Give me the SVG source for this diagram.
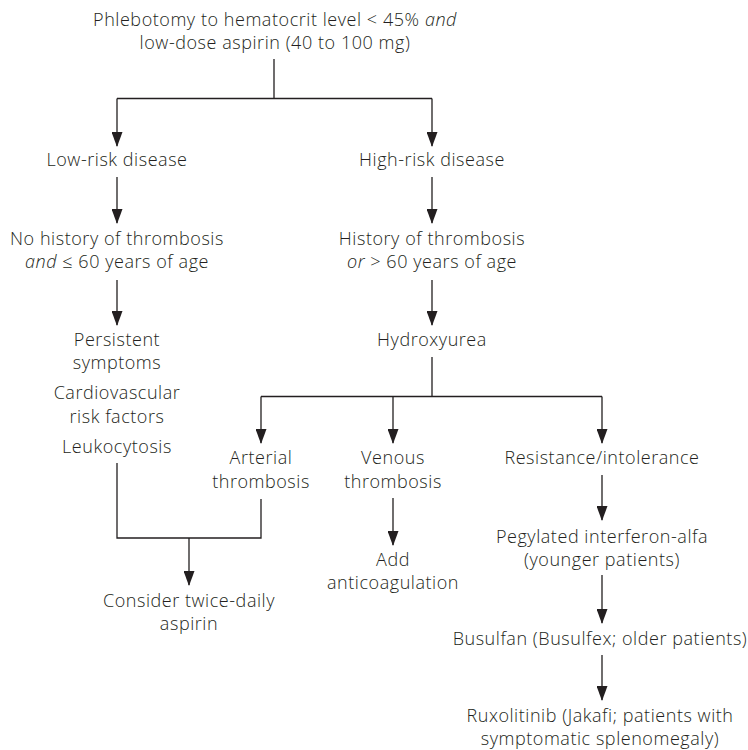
<svg xmlns="http://www.w3.org/2000/svg" width="748" height="750" viewBox="0 0 748 750">
<style>
text{font-family:"Open Sans",Lato,"Liberation Sans",sans-serif;font-size:18px;font-weight:300;letter-spacing:0.55px;fill:#231f20;text-anchor:middle}
.i{font-style:italic}
.c{fill:none;stroke:#231f20;stroke-width:1.3}
.a{marker-end:url(#ah)}
</style>
<defs>
<marker id="ah" viewBox="0 0 15 11" refX="14" refY="5.5" markerWidth="15" markerHeight="11" markerUnits="userSpaceOnUse" orient="auto">
<path d="M0,0 L15,5.5 L0,11 z" fill="#231f20"/>
</marker>
</defs>
<rect width="748" height="750" fill="#fff"/>
<g id="connectors">
<path class="c" d="M274,59 V98.5 M117,98.5 H432"/>
<path class="c a" d="M117,98.5 V146"/>
<path class="c a" d="M432,98.5 V146"/>
<path class="c a" d="M117,177 V223"/>
<path class="c a" d="M432,177 V223"/>
<path class="c a" d="M117,280 V325"/>
<path class="c a" d="M432,280 V325"/>
<path class="c" d="M432,357 V396.5 M261,396.5 H602"/>
<path class="c a" d="M261,396.5 V443"/>
<path class="c a" d="M393,396.5 V443"/>
<path class="c a" d="M602,396.5 V443"/>
<path class="c" d="M117,463 V538 H261 V499"/>
<path class="c a" d="M189,538 V585"/>
<path class="c a" d="M393,498 V545"/>
<path class="c a" d="M602,475 V520"/>
<path class="c a" d="M602,575 V623"/>
<path class="c a" d="M602,655 V700"/>
</g>
<g id="start"><text x="275" y="26">Phlebotomy to hematocrit level &lt; 45% <tspan class="i">and</tspan></text><text x="275" y="49">low-dose aspirin (40 to 100 mg)</text></g>
<g id="lowrisk"><text x="117" y="166">Low-risk disease</text></g>
<g id="highrisk"><text x="432" y="166">High-risk disease</text></g>
<g id="nohistory"><text x="117" y="245">No history of thrombosis</text><text x="117" y="268"><tspan class="i">and</tspan> ≤ 60 years of age</text></g>
<g id="history"><text x="432" y="245">History of thrombosis</text><text x="432" y="268"><tspan class="i">or</tspan> &gt; 60 years of age</text></g>
<g id="conditions"><text x="117" y="346">Persistent</text><text x="117" y="369">symptoms</text><text x="117" y="399">Cardiovascular</text><text x="117" y="423">risk factors</text><text x="117" y="453">Leukocytosis</text></g>
<g id="hydroxyurea"><text x="432" y="346">Hydroxyurea</text></g>
<g id="arterial"><text x="261" y="464">Arterial</text><text x="261" y="488">thrombosis</text></g>
<g id="venous"><text x="393" y="464">Venous</text><text x="393" y="488">thrombosis</text></g>
<g id="resistance"><text x="602" y="464">Resistance/intolerance</text></g>
<g id="aspirin2"><text x="189" y="607">Consider twice-daily</text><text x="189" y="630">aspirin</text></g>
<g id="anticoag"><text x="393" y="566">Add</text><text x="393" y="589">anticoagulation</text></g>
<g id="peg"><text x="602" y="543">Pegylated interferon-alfa</text><text x="602" y="566">(younger patients)</text></g>
<g id="busulfan"><text x="600" y="645">Busulfan (Busulfex; older patients)</text></g>
<g id="ruxo"><text x="600" y="722">Ruxolitinib (Jakafi; patients with</text><text x="600" y="745">symptomatic splenomegaly)</text></g>
</svg>
